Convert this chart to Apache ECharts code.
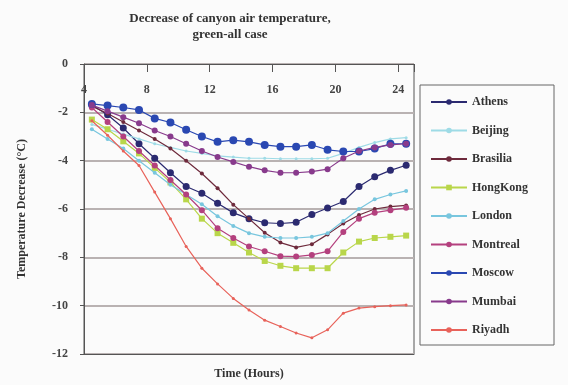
<!DOCTYPE html>
<html>
<head>
<meta charset="utf-8">
<script src="https://cdn.jsdelivr.net/npm/echarts@6/dist/echarts.min.js"></script>
<style>html,body{margin:0;padding:0;background:#fbfbfb;}#c{width:568px;height:385px;}</style>
</head>
<body>
<div id="c"></div>
<script>
const hours = [4.5,5.5,6.5,7.5,8.5,9.5,10.5,11.5,12.5,13.5,14.5,15.5,16.5,17.5,18.5,19.5,20.5,21.5,22.5,23.5,24.5];
const xTicks = [4, 8, 12, 16, 20, 24];
const yTicks = [0, -2, -4, -6, -8, -10, -12];
const cities = ['Athens','Beijing','Brasilia','HongKong','London','Montreal','Moscow','Mumbai','Riyadh'];
const athens   = [-1.70,-2.10,-2.65,-3.30,-3.90,-4.50,-5.07,-5.35,-5.76,-6.16,-6.40,-6.57,-6.60,-6.55,-6.23,-5.96,-5.69,-5.07,-4.67,-4.40,-4.19];
const beijing  = [-2.50,-2.70,-2.90,-3.10,-3.30,-3.45,-3.60,-3.70,-3.80,-3.85,-3.90,-3.90,-3.92,-3.92,-3.92,-3.90,-3.70,-3.45,-3.25,-3.10,-3.05];
const brasilia = [-1.75,-2.05,-2.40,-2.75,-3.10,-3.50,-4.00,-4.53,-5.14,-5.82,-6.40,-6.98,-7.39,-7.59,-7.46,-7.05,-6.60,-6.25,-6.00,-5.90,-5.85];
const hongkong = [-2.30,-2.70,-3.20,-3.70,-4.30,-4.90,-5.60,-6.40,-7.00,-7.40,-7.80,-8.15,-8.35,-8.45,-8.45,-8.45,-7.80,-7.35,-7.20,-7.15,-7.10];
const london   = [-2.70,-3.10,-3.50,-4.00,-4.50,-5.00,-5.40,-5.80,-6.30,-6.70,-7.00,-7.15,-7.20,-7.20,-7.15,-7.00,-6.50,-6.00,-5.60,-5.40,-5.25];
const montreal = [-1.80,-2.40,-3.00,-3.60,-4.20,-4.80,-5.40,-6.05,-6.80,-7.20,-7.55,-7.75,-7.95,-7.97,-7.90,-7.75,-6.95,-6.40,-6.15,-6.05,-5.95];
const moscow   = [-1.65,-1.72,-1.80,-1.90,-2.25,-2.42,-2.72,-3.00,-3.22,-3.15,-3.22,-3.35,-3.42,-3.42,-3.35,-3.55,-3.62,-3.62,-3.50,-3.30,-3.30];
const mumbai   = [-1.70,-1.95,-2.20,-2.45,-2.75,-3.00,-3.30,-3.60,-3.85,-4.05,-4.25,-4.40,-4.50,-4.50,-4.45,-4.35,-3.90,-3.60,-3.45,-3.35,-3.30];
const riyadh   = [-2.35,-2.95,-3.60,-4.20,-5.30,-6.40,-7.55,-8.45,-9.10,-9.70,-10.18,-10.60,-10.86,-11.13,-11.33,-11.00,-10.31,-10.10,-10.04,-10.00,-9.97];

const values = [athens, beijing, brasilia, hongkong, london, montreal, moscow, mumbai, riyadh];
const colors = ['#2b2a70','#9edbe6','#6e2a3c','#b9d64a','#78c6de','#b4407e','#2a48b2','#883a8c','#e8625a'];
const sizes  = [7, 3, 4, 6, 4, 6, 8, 6, 3];
const shapes = ['circle','circle','circle','rect','circle','circle','circle','circle','circle'];

const serif = 'Liberation Serif';
const chart = echarts.init(document.getElementById('c'), null, {renderer:'canvas'});
chart.setOption({
  backgroundColor: '#fbfbfb',
  animation: false,
  title: {
    text: 'Decrease of canyon air temperature,\ngreen-all case',
    left: 225, top: 6, textAlign: 'center',
    textStyle: {fontFamily: serif, fontSize: 13, fontWeight: 'bold', color: '#333', lineHeight: 16}
  },
  legend: {
    data: cities, orient: 'vertical', left: 420, top: 85,
    itemWidth: 36, itemHeight: 7, itemGap: 16.5,
    padding: [11, 20, 9, 10],
    borderColor: '#666', borderWidth: 1,
    textStyle: {fontFamily: serif, fontSize: 12, fontWeight: 'bold', color: '#333', width: 62, lineHeight: 12}
  },
  grid: {left: 84, right: 154, top: 64, bottom: 28, show: true, borderColor: '#555', borderWidth: 1},
  xAxis: [{
    type: 'value', position: 'top', min: xTicks[0], max: 25, interval: 4,
    axisLine: {show: true, lineStyle: {color: '#555', width: 1}},
    axisTick: {show: true, inside: true, length: 8, lineStyle: {color: '#555'}},
    axisLabel: {inside: true, margin: 20, fontFamily: serif, fontSize: 12, fontWeight: 'bold', color: '#444',
                formatter: v => xTicks.includes(v) ? String(v) : ''},
    splitLine: {show: false}
  }, {
    type: 'value', position: 'bottom', min: xTicks[0], max: 25,
    name: 'Time (Hours)', nameLocation: 'middle', nameGap: 14,
    nameTextStyle: {fontFamily: serif, fontSize: 12, fontWeight: 'bold', color: '#333'},
    axisLine: {show: true, lineStyle: {color: '#555', width: 1}},
    axisTick: {show: false}, axisLabel: {show: false}, splitLine: {show: false}
  }],
  yAxis: {
    type: 'value', min: yTicks[yTicks.length-1], max: yTicks[0], interval: 2,
    name: 'Temperature Decrease (°C)', nameLocation: 'middle', nameGap: 56,
    nameTextStyle: {fontFamily: serif, fontSize: 12, fontWeight: 'bold', color: '#333'},
    axisLine: {show: true, lineStyle: {color: '#555', width: 1}},
    axisTick: {show: true, length: 4, lineStyle: {color: '#555'}},
    axisLabel: {margin: 16, fontFamily: serif, fontSize: 12, fontWeight: 'bold', color: '#444'},
    splitLine: {show: true, lineStyle: {color: '#b9b2b2', width: 2}}
  },
  series: cities.map((name, k) => ({
    name: name, type: 'line', xAxisIndex: 0,
    data: hours.map((h, i) => [h, values[k][i]]),
    symbol: shapes[k], symbolSize: sizes[k], showAllSymbol: true,
    lineStyle: {color: colors[k], width: 1.2},
    itemStyle: {color: colors[k]},
    z: 2 + k
  }))
});
</script>
</body>
</html>
